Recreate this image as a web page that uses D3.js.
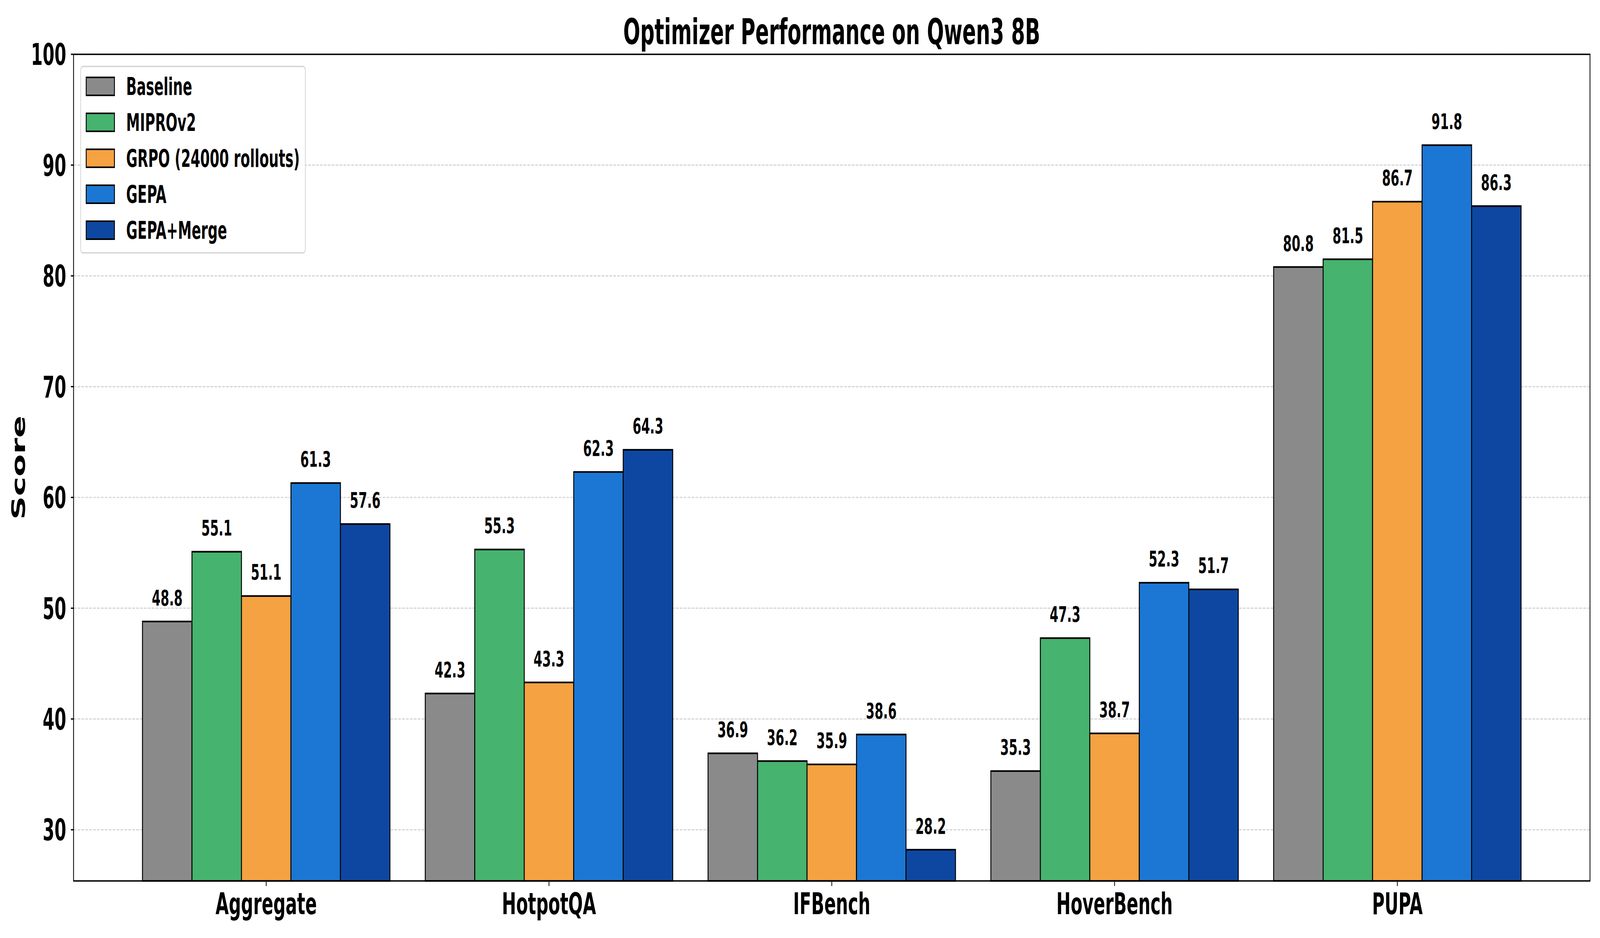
<!DOCTYPE html>
<html>
<head>
<meta charset="utf-8">
<script src="https://cdn.jsdelivr.net/npm/d3@7"></script>
<style>
  html, body { margin: 0; padding: 0; background: #fff; width: 100%; height: 100%; overflow: hidden; }
  #chart { width: 100vw; height: 100vh; }
  #chart svg { display: block; width: 100%; height: 100%; }
  text { font-family: "DejaVu Sans", sans-serif; font-weight: bold; fill: #000; }
</style>
</head>
<body>
<div id="chart"></div>
<script>
// === chart data ===
const title = "Optimizer Performance on Qwen3 8B";
const yLabel = "Score";
const categories = ["Aggregate", "HotpotQA", "IFBench", "HoverBench", "PUPA"];
const seriesNames = ["Baseline", "MIPROv2", "GRPO (24000 rollouts)", "GEPA", "GEPA+Merge"];
const seriesColors = ["#8a8a8a", "#46b36e", "#f4a242", "#1b77d3", "#0e47a1"];
const baseline = [48.8, 42.3, 36.9, 35.3, 80.8];
const mipro = [55.1, 55.3, 36.2, 47.3, 81.5];
const grpo = [51.1, 43.3, 35.9, 38.7, 86.7];
const gepa = [61.3, 62.3, 38.6, 52.3, 91.8];
const gepaMerge = [57.6, 64.3, 28.2, 51.7, 86.3];
const yTicks = [30, 40, 50, 60, 70, 80, 90, 100];

(() => {
  // drawn on a 7200x2400 canvas, stretched to fill the window
  const W = 7200, H = 2400;
  const plot = { left: 331, right: 7155, top: 139, bottom: 2254 };

  const series = [baseline, mipro, grpo, gepa, gepaMerge];
  const barW = 0.175;

  // matplotlib-like x limits: 5% margin around the bars
  const half = (series.length * barW) / 2;
  const span = (categories.length - 1) + 2 * half;
  const pad = span * 0.05;
  const x = d3.scaleLinear()
    .domain([-half - pad, categories.length - 1 + half + pad])
    .range([plot.left, plot.right]);

  const allVals = series.flat();
  const y = d3.scaleLinear()
    .domain([d3.min(allVals) * 0.9, 100])
    .range([plot.bottom, plot.top]);

  const svg = d3.select("#chart").append("svg")
    .attr("viewBox", [0, 0, W, H].join(" "))
    .attr("preserveAspectRatio", "none");

  svg.append("rect").attr("width", W).attr("height", H).attr("fill", "#fff");

  // grid
  svg.append("g")
    .selectAll("line")
    .data(yTicks)
    .join("line")
    .attr("x1", plot.left).attr("x2", plot.right)
    .attr("y1", (d) => y(d)).attr("y2", (d) => y(d))
    .attr("stroke", "#d6d6d6")
    .attr("stroke-width", 3.2)
    .attr("stroke-dasharray", "12.3 5.3");

  // bars
  const bars = [];
  series.forEach((vals, si) => {
    vals.forEach((v, ci) => {
      bars.push({ si, ci, v, x0: ci + (si - (series.length - 1) / 2) * barW });
    });
  });

  svg.append("g")
    .selectAll("rect")
    .data(bars)
    .join("rect")
    .attr("x", (d) => x(d.x0 - barW / 2))
    .attr("width", (d) => x(d.x0 + barW / 2) - x(d.x0 - barW / 2))
    .attr("y", (d) => y(d.v))
    .attr("height", (d) => y.range()[0] - y(d.v))
    .attr("fill", (d) => seriesColors[d.si])
    .attr("stroke", "#000")
    .attr("stroke-width", 4.2);

  // value labels (offset 1 unit above the bar, bottom aligned)
  const valFs = 56;
  svg.append("g")
    .selectAll("text")
    .data(bars)
    .join("text")
    .attr("x", (d) => x(d.x0))
    .attr("y", (d) => y(d.v + 1) - 0.236 * valFs)
    .attr("text-anchor", "middle")
    .attr("font-size", valFs)
    .text((d) => d.v.toFixed(1));

  // spines
  svg.append("rect")
    .attr("x", plot.left).attr("y", plot.top)
    .attr("width", plot.right - plot.left)
    .attr("height", plot.bottom - plot.top)
    .attr("fill", "none")
    .attr("stroke", "#000")
    .attr("stroke-width", 3.6);

  // y axis ticks + labels
  const yAxis = svg.append("g");
  yAxis.selectAll("line")
    .data(yTicks)
    .join("line")
    .attr("x1", plot.left - 12).attr("x2", plot.left)
    .attr("y1", (d) => y(d)).attr("y2", (d) => y(d))
    .attr("stroke", "#000").attr("stroke-width", 3.4);
  yAxis.selectAll("text")
    .data(yTicks)
    .join("text")
    .attr("x", plot.left - 33)
    .attr("y", (d) => y(d))
    .attr("dy", "0.36em")
    .attr("text-anchor", "end")
    .attr("font-size", 76)
    .text((d) => d);

  // x axis ticks + labels
  const xAxis = svg.append("g");
  xAxis.selectAll("line")
    .data(categories)
    .join("line")
    .attr("x1", (d, i) => x(i)).attr("x2", (d, i) => x(i))
    .attr("y1", plot.bottom).attr("y2", plot.bottom + 13)
    .attr("stroke", "#000").attr("stroke-width", 3.4);
  xAxis.selectAll("text")
    .data(categories)
    .join("text")
    .attr("x", (d, i) => x(i))
    .attr("y", plot.bottom + 85)
    .attr("text-anchor", "middle")
    .attr("font-size", 77)
    .text((d) => d);

  // title
  svg.append("text")
    .attr("x", (plot.left + plot.right) / 2)
    .attr("y", 113)
    .attr("text-anchor", "middle")
    .attr("font-size", 90)
    .text(title);

  // y label
  svg.append("text")
    .attr("transform", `translate(113,${(plot.top + plot.bottom) / 2}) rotate(-90)`)
    .attr("text-anchor", "middle")
    .attr("font-size", 84)
    .text(yLabel);

  // legend
  const lg = svg.append("g").attr("transform", "translate(363,170)");
  lg.append("rect")
    .attr("width", 1011).attr("height", 477)
    .attr("rx", 10).attr("ry", 10)
    .attr("fill", "#fff").attr("fill-opacity", 0.8)
    .attr("stroke", "#d5d5d5").attr("stroke-width", 3.3);
  const rowH = 92;
  const item = lg.selectAll("g.item")
    .data(seriesNames)
    .join("g")
    .attr("class", "item")
    .attr("transform", (d, i) => `translate(0,${28 + i * rowH})`);
  item.append("rect")
    .attr("x", 25).attr("width", 127).attr("height", 46)
    .attr("fill", (d, i) => seriesColors[i])
    .attr("stroke", "#000").attr("stroke-width", 4);
  item.append("text")
    .attr("x", 205).attr("y", 45)
    .attr("font-size", 62)
    .text((d) => d);
})();
</script>
</body>
</html>
